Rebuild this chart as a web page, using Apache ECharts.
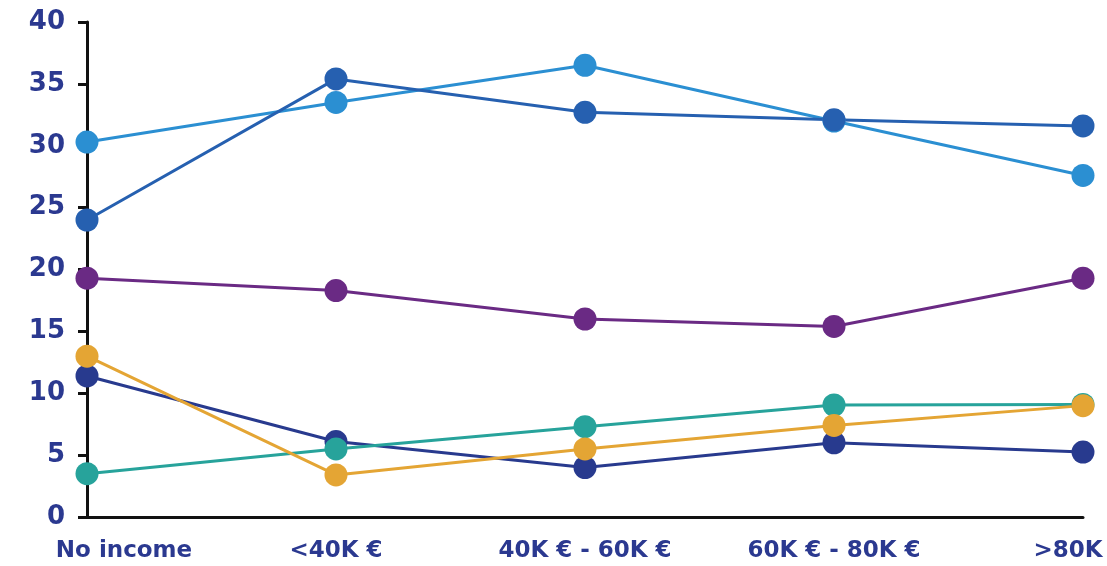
<!DOCTYPE html>
<html>
<head>
<meta charset="utf-8">
<script src="https://cdn.jsdelivr.net/npm/echarts@6/dist/echarts.min.js"></script>
<style>
  html, body { margin: 0; padding: 0; background: #ffffff; }
  #chart { width: 1107px; height: 566px; }
</style>
</head>
<body>
<div id="chart"></div>
<script>
// Income brackets along the horizontal axis
const categories = ['No income', '<40K €', '40K € - 60K €', '60K € - 80K €', '>80K'];

// One line per group, values per income bracket
const lightBlue = [30.3, 33.5, 36.5, 32.0, 27.6];
const midBlue   = [24.0, 35.4, 32.7, 32.1, 31.6];
const purple    = [19.3, 18.3, 16.0, 15.4, 19.3];
const darkBlue  = [11.4, 6.1, 4.0, 6.0, 5.25];
const teal      = [3.5, 5.5, 7.3, 9.05, 9.1];
const orange    = [13.0, 3.4, 5.5, 7.4, 9.0];

// Value axis range
const yMin = 0;
const yMax = 40;
const yStep = 5;

const labelColor = '#2b3990';
const axisColor = '#111111';
const fontFamily = '"DejaVu Sans", "Noto Sans", sans-serif';

function lineSeries(name, values, color) {
  return {
    name: name,
    type: 'line',
    data: values,
    symbol: 'circle',
    symbolSize: 23,
    lineStyle: { color: color, width: 3 },
    itemStyle: { color: color },
    emphasis: { disabled: true },
    animation: false
  };
}

// First and last tick labels are nudged inward so they stay within the canvas
const categoryData = categories.map(function (c, i) {
  if (i === 0) return { value: c, textStyle: { padding: [0, 0, 0, 74] } };
  if (i === categories.length - 1) return { value: c, textStyle: { padding: [0, 30, 0, 0] } };
  return c;
});

const chart = echarts.init(document.getElementById('chart'), null, { renderer: 'canvas' });
chart.setOption({
  backgroundColor: '#ffffff',
  animation: false,
  grid: { left: 87, right: 24, top: 22, bottom: 49, containLabel: false },
  xAxis: {
    type: 'category',
    data: categoryData,
    boundaryGap: false,
    axisLine: { show: true, lineStyle: { color: axisColor, width: 3 } },
    axisTick: { show: false },
    axisLabel: {
      interval: 0,
      margin: 23,
      color: labelColor,
      fontFamily: fontFamily,
      fontWeight: 'bold',
      fontSize: 23
    },
    splitLine: { show: false }
  },
  yAxis: {
    type: 'value',
    min: yMin,
    max: yMax,
    interval: yStep,
    axisLine: { show: true, lineStyle: { color: axisColor, width: 3 } },
    axisTick: { show: true, inside: false, length: 9, lineStyle: { color: axisColor, width: 3 } },
    axisLabel: {
      margin: 22,
      color: labelColor,
      fontFamily: fontFamily,
      fontWeight: 'bold',
      fontSize: 26
    },
    splitLine: { show: false }
  },
  series: [
    lineSeries('Light blue', lightBlue, '#2b8fd2'),
    lineSeries('Mid blue', midBlue, '#2660b0'),
    lineSeries('Purple', purple, '#6a2a84'),
    lineSeries('Dark blue', darkBlue, '#283a8e'),
    lineSeries('Teal', teal, '#27a39b'),
    lineSeries('Orange', orange, '#e4a534')
  ]
});
</script>
</body>
</html>
